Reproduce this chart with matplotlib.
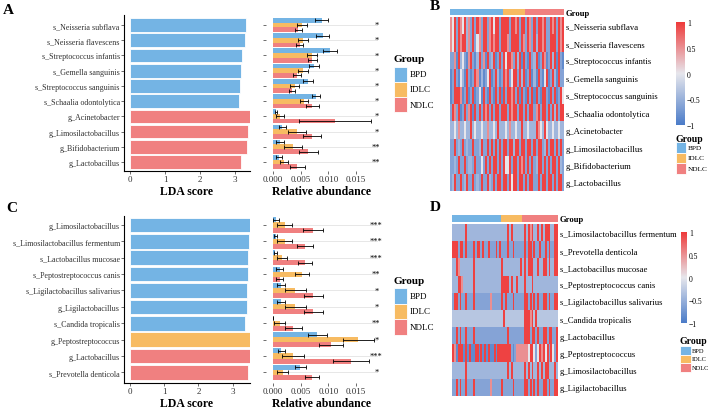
import numpy as np
import matplotlib
matplotlib.use('Agg')
import matplotlib.pyplot as plt
from matplotlib.colors import LinearSegmentedColormap, ListedColormap
from matplotlib.patches import Rectangle
from matplotlib.cm import ScalarMappable
from matplotlib.colors import Normalize

plt.rcParams['font.family'] = ['Liberation Serif', 'DejaVu Serif']

W, H = 709, 410

groups = ['BPD', 'IDLC', 'NDLC']
group_colors = ['#74B4E4', '#F7BB62', '#F08080']
n_samples = [26, 11, 19]

# ---- panel A / B data
a_features = ['s_Neisseria subflava', 's_Neisseria flavescens', 's_Streptococcus infantis',
              's_Gemella sanguinis', 's_Streptococcus sanguinis', 's_Schaalia odontolytica',
              'g_Acinetobacter', 'g_Limosilactobacillus', 'g_Bifidobacterium', 'g_Lactobacillus']
a_lda = [3.31, 3.29, 3.21, 3.16, 3.14, 3.12, 3.6, 3.38, 3.35, 3.17]
a_enriched = [0, 0, 0, 0, 0, 0, 2, 2, 2, 2]
a_bpd = [0.0088, 0.0090, 0.0103, 0.0074, 0.0063, 0.0078, 0.0005, 0.0017, 0.0013, 0.0011]
a_bpd_err = [0.0012, 0.0012, 0.0012, 0.0009, 0.0009, 0.0007, 0.0002, 0.0006, 0.0007, 0.0005]
a_idlc = [0.0052, 0.0054, 0.0071, 0.0054, 0.0039, 0.0056, 0.0013, 0.0044, 0.0036, 0.0020]
a_idlc_err = [0.0009, 0.0009, 0.0009, 0.0009, 0.0008, 0.0007, 0.0007, 0.0016, 0.0016, 0.0008]
a_ndlc = [0.0046, 0.0048, 0.0071, 0.0044, 0.0034, 0.0071, 0.0112, 0.0070, 0.0064, 0.0044]
a_ndlc_err = [0.0007, 0.0007, 0.0008, 0.0007, 0.0005, 0.0012, 0.0065, 0.0016, 0.0017, 0.0013]
a_stars = ['*', '*', '*', '*', '*', '*', '*', '*', '**', '**']

b_labels = a_features
# heatmap cells: B=-0.85 b=-0.62 l=-0.45 m=-0.3 w=0 p=0.5 R=0.95
b_rows = [
    'pwRbRpwRlpbRbRpbRRbpRwRRbR' + 'RRRbRRpRbRR' + 'bRpbRbRRpRbbRpRbRpR',
    'pwRbRpRRlpbRbwpbRRbpRpRRbR' + 'RRpbRRRRbRp' + 'bRpbRlRRpRbbRRRbRpR',
    'bbpBRlwbBpRbBlRbpBRblRBbRb' + 'RwRRpbRlRBR' + 'bBRblRBbRpBbRlRBRbB',
    'BbRbBwlBRbBbRpBlBbwRBbRlBb' + 'RpRbwRRbRlR' + 'BbRBlBRbBwRBbRlBRbb',
    'BbRRRpBbRBbRBbwBRbBRbBRbRB' + 'RbRRpRbRBRb' + 'BRbRBRbBRRbBRbRBbRw',
    'bRpbRBbRbpRBRbRbRpRbRbRRbR' + 'RRbRpRRbRRb' + 'RbRRbpRbRRbRbRlRbRR',
    'llwlpllwllRlwllwllpllwlRll' + 'lwlpllwllRl' + 'lwlllRpwlRwllwllwll',
    'bbRblbRblbbRbblRbbRbRbRbRb' + 'RRbRRlRRbRR' + 'bRRbRbRRblRbRRbRbRb',
    'bblbRbbRbllbRbbwbRbRbRRbRb' + 'RwwRbRRbRpR' + 'bRbRblRRbRbRbRRbRlb',
    'blRbbRblRbbRblbRbbRlbRbRRb' + 'RRbRwRRbRRb' + 'RbRRbbRbRRbRRbRbRRb',
]

# ---- panel C / D data
c_features = ['g_Limosilactobacillus', 's_Limosilactobacillus fermentum', 's_Lactobacillus mucosae',
              's_Peptostreptococcus canis', 's_Ligilactobacillus salivarius', 'g_Ligilactobacillus',
              's_Candida tropicalis', 'g_Peptostreptococcus', 'g_Lactobacillus', 's_Prevotella denticola']
c_lda = [3.6, 3.46, 3.43, 3.43, 3.41, 3.41, 3.34, 3.6, 3.7, 3.43]
c_enriched = [0, 0, 0, 0, 0, 0, 0, 1, 2, 2]
c_bpd = [0.0005, 0.0005, 0.0004, 0.0012, 0.0015, 0.0015, 0.00005, 0.0080, 0.0015, 0.0049]
c_bpd_err = [0.0005, 0.0003, 0.0003, 0.0006, 0.0007, 0.0007, 0.0, 0.0017, 0.0006, 0.0010]
c_idlc = [0.0021, 0.0021, 0.0017, 0.0052, 0.0040, 0.0040, 0.0012, 0.0154, 0.0036, 0.0018]
c_idlc_err = [0.0013, 0.0013, 0.0009, 0.0013, 0.0019, 0.0019, 0.0010, 0.0028, 0.0020, 0.0010]
c_ndlc = [0.0072, 0.0058, 0.0058, 0.0012, 0.0073, 0.0073, 0.0037, 0.0105, 0.0141, 0.0070]
c_ndlc_err = [0.0018, 0.0014, 0.0012, 0.0006, 0.0017, 0.0017, 0.0015, 0.0021, 0.0033, 0.0013]
c_stars = ['***', '***', '***', '**', '*', '*', '**', '*', '***', '*']

d_labels = ['s_Limosilactobacillus fermentum', 's_Prevotella denticola', 's_Lactobacillus mucosae',
            's_Peptostreptococcus canis', 's_Ligilactobacillus salivarius', 's_Candida tropicalis',
            'g_Lactobacillus', 'g_Peptostreptococcus', 'g_Limosilactobacillus', 'g_Ligilactobacillus']
d_rows = [
    'lllllllRllllllllllllllllll' + 'lllRlRlllll' + 'lRlRpRllRlRlRRRllRR',
    'RRRbRRbRbbbRbRRbRbbRbbbRbR' + 'bbbRbbRbbbb' + 'bRbRRbRbbRbbRbRbbRR',
    'llRplllllllRllllllllllllll' + 'RlllllllllR' + 'lRlRRRllRllRRlRllRR',
    'lllRRplllllRllllllllllllll' + 'RRRRlRllRll' + 'lRlllRlllllllllllll',
    'bRRbRbbRbbbRbbbbbbbbpbbbbb' + 'RbRbbbRbbbb' + 'bRRbRbRbRbbRRbRbbRR',
    'mmmmmmmmmmmmmmmmmmmmmmmmmm' + 'mRmmmmmmmmm' + 'mRRRpRmRmmmmmmmmmmm',
    'bbRbRbbRbbbRbbbbbbbbbbbbbb' + 'bbbRbbbbbbb' + 'bRRRbRRbRbbRRbRRbbR',
    'RpBRRRBRBRBBRRBRBRBRBBRBRR' + 'RRRRRbBbppp' + 'pppwRRwbwRpRwRbRwbR',
    'lllllllRllllllllllllllllll' + 'lllRlRlllll' + 'lRlRlRllRlRlRRlllRl',
    'bbRbRbbRbbbRbbbbbbbbpbbbbb' + 'RbbbbbRbbbb' + 'bRRbRbRbRbbRRbRbbRR',
]
cell_levels = {'B': -0.85, 'b': -0.62, 'l': -0.45, 'm': -0.3, 'w': 0.0, 'p': 0.5, 'R': 0.95}

heat_cmap = LinearSegmentedColormap.from_list('hm', ['#4A7BC8', '#E6E6EC', '#EE3A3A'])

fig = plt.figure(figsize=(W / 100, H / 100), dpi=100)


def px_axes(x0, y0, x1, y1):
    return fig.add_axes([x0 / W, 1 - y1 / H, (x1 - x0) / W, (y1 - y0) / H])


def lda_panel(box, xlim, ylim, features, scores, enriched):
    ax = px_axes(*box)
    y = np.arange(len(features))
    ax.barh(y, scores, height=0.9, color=[group_colors[g] for g in enriched],
            edgecolor='white', linewidth=0.6)
    ax.set_xlim(xlim)
    ax.set_ylim(ylim)
    ax.set_yticks(y, features, fontsize=5.8, color='#333333')
    ax.set_xticks([0, 1, 2, 3], ['0', '1', '2', '3'], fontsize=6.5, color='#333333')
    ax.tick_params(length=2, width=0.5, pad=1, colors='#333333')
    for s in ['top', 'right']:
        ax.spines[s].set_visible(False)
    for s in ['left', 'bottom']:
        ax.spines[s].set_linewidth(0.8)
    ax.set_xlabel('LDA score', fontsize=8.5, fontweight='bold', labelpad=1)
    return ax


def abund_panel(box, ylim, means, errs, stars):
    ax = px_axes(*box)
    n = len(stars)
    y = np.arange(n)
    xmax = 0.019
    ax.hlines(y, 0, xmax, color='#E3E3E3', lw=0.6, zorder=0)
    bh = 0.31
    for k in range(3):
        ax.barh(y + (k - 1) * bh, means[k], height=bh, color=group_colors[k], zorder=2,
                xerr=errs[k], error_kw=dict(elinewidth=0.6, capsize=1.3, capthick=0.6,
                                            ecolor='black', zorder=3))
    for yi, s in zip(y, stars):
        ax.text(0.0187, yi, s, ha='center', va='center', fontsize=6)
    ax.set_xlim(-0.00127, xmax)
    ax.set_ylim(ylim)
    ax.set_yticks(y, [''] * n)
    ax.set_xticks([0, 0.005, 0.01, 0.015], ['0.000', '0.005', '0.010', '0.015'],
                  fontsize=6.5, color='#333333')
    ax.tick_params(length=2, width=0.5, pad=1, colors='#333333')
    for s in ax.spines.values():
        s.set_visible(False)
    ax.set_xlabel('Relative abundance', fontsize=8.5, fontweight='bold', labelpad=1)
    return ax


def heatmap_panel(box, annot_box, rows, labels, fs):
    ax = px_axes(*box)
    vals = np.array([[cell_levels[c] for c in r] for r in rows])
    ax.pcolormesh(vals, cmap=heat_cmap, vmin=-1, vmax=1)
    ax.set_ylim(len(rows), 0)
    ax.set_xticks([])
    ax.yaxis.tick_right()
    ax.set_yticks(np.arange(len(rows)) + 0.5, labels, fontsize=fs)
    ax.tick_params(length=0, pad=1.5)
    for s in ax.spines.values():
        s.set_visible(False)
    an = px_axes(*annot_box)
    gidx = np.repeat(np.arange(3), n_samples)[None, :]
    an.pcolormesh(gidx, cmap=ListedColormap(group_colors), vmin=-0.5, vmax=2.5)
    an.set_xticks([])
    an.yaxis.tick_right()
    an.set_yticks([0.5], ['Group'], fontsize=fs, fontweight='bold')
    an.tick_params(length=0, pad=1.5)
    for s in an.spines.values():
        s.set_visible(False)


def colorbar_box(box, fs):
    cax = px_axes(*box)
    cb = fig.colorbar(ScalarMappable(Normalize(-1, 1), heat_cmap), cax=cax)
    cb.set_ticks([-1, -0.5, 0, 0.5, 1], labels=['\u22121', '\u22120.5', '0', '0.5', '1'])
    cb.ax.tick_params(length=0, labelsize=fs, pad=1.5)
    cb.outline.set_visible(False)


def group_legend(x, y_title, y0, w, h, fs_title, fs, gap=3):
    fig.text(x / W, 1 - y_title / H, 'Group', fontsize=fs_title, fontweight='bold',
             ha='left', va='center')
    for k, g in enumerate(groups):
        top = y0 + k * h
        fig.add_artist(Rectangle((x / W, 1 - (top + h) / H), w / W, h / H,
                                 transform=fig.transFigure, facecolor=group_colors[k],
                                 edgecolor='white', linewidth=0.6))
        fig.text((x + w + gap) / W, 1 - (top + h / 2) / H, g, fontsize=fs,
                 ha='left', va='center')


# ---- A
lda_panel((124, 16, 250, 172), (-0.171, 3.43), (9.59, -0.66), a_features, a_lda, a_enriched)
abund_panel((266, 16, 378, 172), (9.59, -0.66),
            [a_bpd, a_idlc, a_ndlc], [a_bpd_err, a_idlc_err, a_ndlc_err], a_stars)
group_legend(394, 60, 68, 13, 15, 8, 6.5)

# ---- B
heatmap_panel((450, 18, 564, 192), (450, 10, 564, 16), b_rows, b_labels, 6.2)
colorbar_box((676, 23, 685, 126), 5.5)
group_legend(676, 139, 143, 10, 10.5, 7, 5.2, gap=1.5)

# ---- C
lda_panel((124, 217, 250, 384), (-0.166, 3.5), (9.65, -0.55), c_features, c_lda, c_enriched)
abund_panel((266, 217, 378, 384), (9.65, -0.55),
            [c_bpd, c_idlc, c_ndlc], [c_bpd_err, c_idlc_err, c_ndlc_err], c_stars)
group_legend(394, 281, 289, 13, 15.5, 8, 6.5)

# ---- D
heatmap_panel((452, 225, 558, 397), (452, 216, 558, 223), d_rows, d_labels, 6.2)
colorbar_box((681, 233, 687, 324), 5.5)
group_legend(680, 342, 347, 11, 8.5, 7, 4.6, gap=1)

# panel letters
for lab, x, y in [('A', 3, 10), ('B', 430, 7), ('C', 6, 209), ('D', 430, 208)]:
    fig.text(x / W, 1 - y / H, lab, fontsize=11, fontweight='bold', ha='left', va='center')

fig.savefig('out.png', dpi=100)
